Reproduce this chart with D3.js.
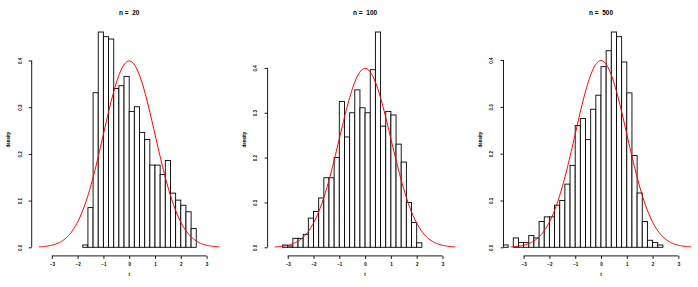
<!DOCTYPE html>
<html>
<head>
<meta charset="utf-8">
<script src="https://cdn.jsdelivr.net/npm/d3@7"></script>
<style>
  body { margin: 0; background: #fff; }
  text { font-family: "Liberation Sans", Arial, sans-serif; fill: #000; }
</style>
</head>
<body>
<div id="chart"></div>
<script>
// DATA //

// sample size of each simulation (one panel per n)
let sampleSizes = [20, 100, 500];

// histogram breaks: left edge of first bin, every bin is 0.2 wide
let binWidth = 0.2;
let binStarts = [-1.8, -3.2, -3.8];

// bar densities, left to right
let dens20 = [0.005, 0.085, 0.331, 0.461, 0.451, 0.446, 0.340, 0.346, 0.366, 0.291, 0.301,
              0.246, 0.231, 0.176, 0.176, 0.156, 0.186, 0.116, 0.101, 0.090, 0.076, 0.040];
let dens100 = [0.005, 0.003, 0.020, 0.020, 0.029, 0.065, 0.080, 0.110, 0.155, 0.155, 0.200,
               0.325, 0.246, 0.300, 0.351, 0.311, 0.300, 0.396, 0.480, 0.270, 0.303, 0.295,
               0.230, 0.190, 0.100, 0.055, 0.010];
let dens500 = [0.005, 0.000, 0.020, 0.010, 0.010, 0.025, 0.020, 0.055, 0.065, 0.065, 0.090,
               0.100, 0.135, 0.175, 0.260, 0.275, 0.230, 0.295, 0.325, 0.386, 0.420, 0.460,
               0.450, 0.396, 0.330, 0.196, 0.116, 0.055, 0.015, 0.010, 0.005];
let densities = [dens20, dens100, dens500];

// axis ticks
let xTicks = [-3, -2, -1, 0, 1, 2, 3];
let yTicks = [0, 0.1, 0.2, 0.3, 0.4];

// the reference curve (standard normal density) is drawn over this range
let curveRange = [-3.5, 3.5];


// DIMENSIONS //
let width = 698, height = 287;
let panelLeft = [31.7, 267.6, 503.5];
let plotW = 195,
    plotTop = 23.4,
    plotBottom = 255.9;

let svg = d3.select("#chart")
    .append("svg")
    .attr("width", width)
    .attr("height", height);

let dnorm = x => Math.exp(-x * x / 2) / Math.sqrt(2 * Math.PI);
let curvePts = d3.range(0, 201).map(i => curveRange[0] + (curveRange[1] - curveRange[0]) * i / 200);

// x range like R: xlim widened by 4% on each side
let pad = (curveRange[1] - curveRange[0]) * 0.04;

sampleSizes.forEach((n, p) => {

    let g = svg.append("g")
        .attr("transform", "translate(" + panelLeft[p] + ",0)");

    let xScale = d3.scaleLinear()
        .domain([curveRange[0] - pad, curveRange[1] + pad])
        .range([0, plotW]);

    let ymax = d3.max(densities[p]);
    let yScale = d3.scaleLinear()
        .domain([-0.04 * ymax, 1.04 * ymax])
        .range([plotBottom, plotTop]);

    // clip to plot region
    g.append("clipPath")
        .attr("id", "clip" + p)
        .append("rect")
        .attr("x", 0).attr("y", plotTop)
        .attr("width", plotW).attr("height", plotBottom - plotTop);

    let bins = densities[p].map((d, i) => ({x0: binStarts[p] + i * binWidth, x1: binStarts[p] + (i + 1) * binWidth, d: d}));

    // BARS //
    g.append("g")
        .attr("clip-path", "url(#clip" + p + ")")
        .selectAll("rect")
        .data(bins)
        .join("rect")
        .attr("x", b => xScale(b.x0))
        .attr("width", b => xScale(b.x1) - xScale(b.x0))
        .attr("y", b => yScale(b.d))
        .attr("height", b => yScale(0) - yScale(b.d))
        .attr("fill", "#fff")
        .attr("stroke", "#000")
        .attr("stroke-width", 0.9);

    // NORMAL CURVE //
    g.append("path")
        .datum(curvePts)
        .attr("fill", "none")
        .attr("stroke", "#ff0000")
        .attr("stroke-width", 1)
        .attr("d", d3.line().x(x => xScale(x)).y(x => yScale(dnorm(x))));

    // Y AXIS //
    let yAxis = g.append("g")
        .call(d3.axisLeft(yScale).tickValues(yTicks).tickFormat(d3.format(".1f")).tickSize(3).tickSizeOuter(0));
    yAxis.select(".domain").remove();
    yAxis.append("line")
        .attr("y1", yScale(yTicks[0])).attr("y2", yScale(yTicks[yTicks.length - 1]))
        .attr("stroke", "#000").attr("stroke-width", 0.9);
    yAxis.selectAll(".tick line").attr("stroke-width", 0.9);
    yAxis.selectAll(".tick text")
        .attr("x", null).attr("dy", null).attr("y", null)
        .attr("transform", "translate(-10.2,0) rotate(-90)")
        .attr("text-anchor", "middle")
        .style("font-size", "4.5px")
        .style("font-weight", "bold");

    // y axis label
    g.append("text")
        .attr("transform", "translate(-21.8," + ((plotTop + plotBottom) / 2) + ") rotate(-90)")
        .attr("text-anchor", "middle")
        .style("font-size", "4.5px")
        .style("font-weight", "bold")
        .text("density");

    // X AXIS //
    let xAxis = g.append("g")
        .attr("transform", "translate(0," + plotBottom + ")")
        .call(d3.axisBottom(xScale).tickValues(xTicks).tickSize(3).tickSizeOuter(0));
    xAxis.select(".domain").remove();
    xAxis.append("line")
        .attr("x1", xScale(xTicks[0])).attr("x2", xScale(xTicks[xTicks.length - 1]))
        .attr("stroke", "#000").attr("stroke-width", 0.9);
    xAxis.selectAll(".tick line").attr("stroke-width", 0.9);
    xAxis.selectAll(".tick text")
        .attr("dy", null)
        .attr("y", 9.7)
        .style("font-size", "4.5px")
        .style("font-weight", "bold")
        .text(d => d < 0 ? "\u2212" + Math.abs(d) : d);

    // x axis label
    g.append("text")
        .attr("x", plotW / 2)
        .attr("y", 275.6)
        .attr("text-anchor", "middle")
        .style("font-size", "4.5px")
        .style("font-weight", "bold")
        .text("t");

    // TITLE //
    g.append("text")
        .attr("x", plotW / 2)
        .attr("y", 15.3)
        .attr("text-anchor", "middle")
        .style("font-size", "6.5px")
        .style("font-weight", "bold")
        .attr("xml:space", "preserve")
        .style("white-space", "pre")
        .text("n =  " + n);
});
</script>
</body>
</html>
